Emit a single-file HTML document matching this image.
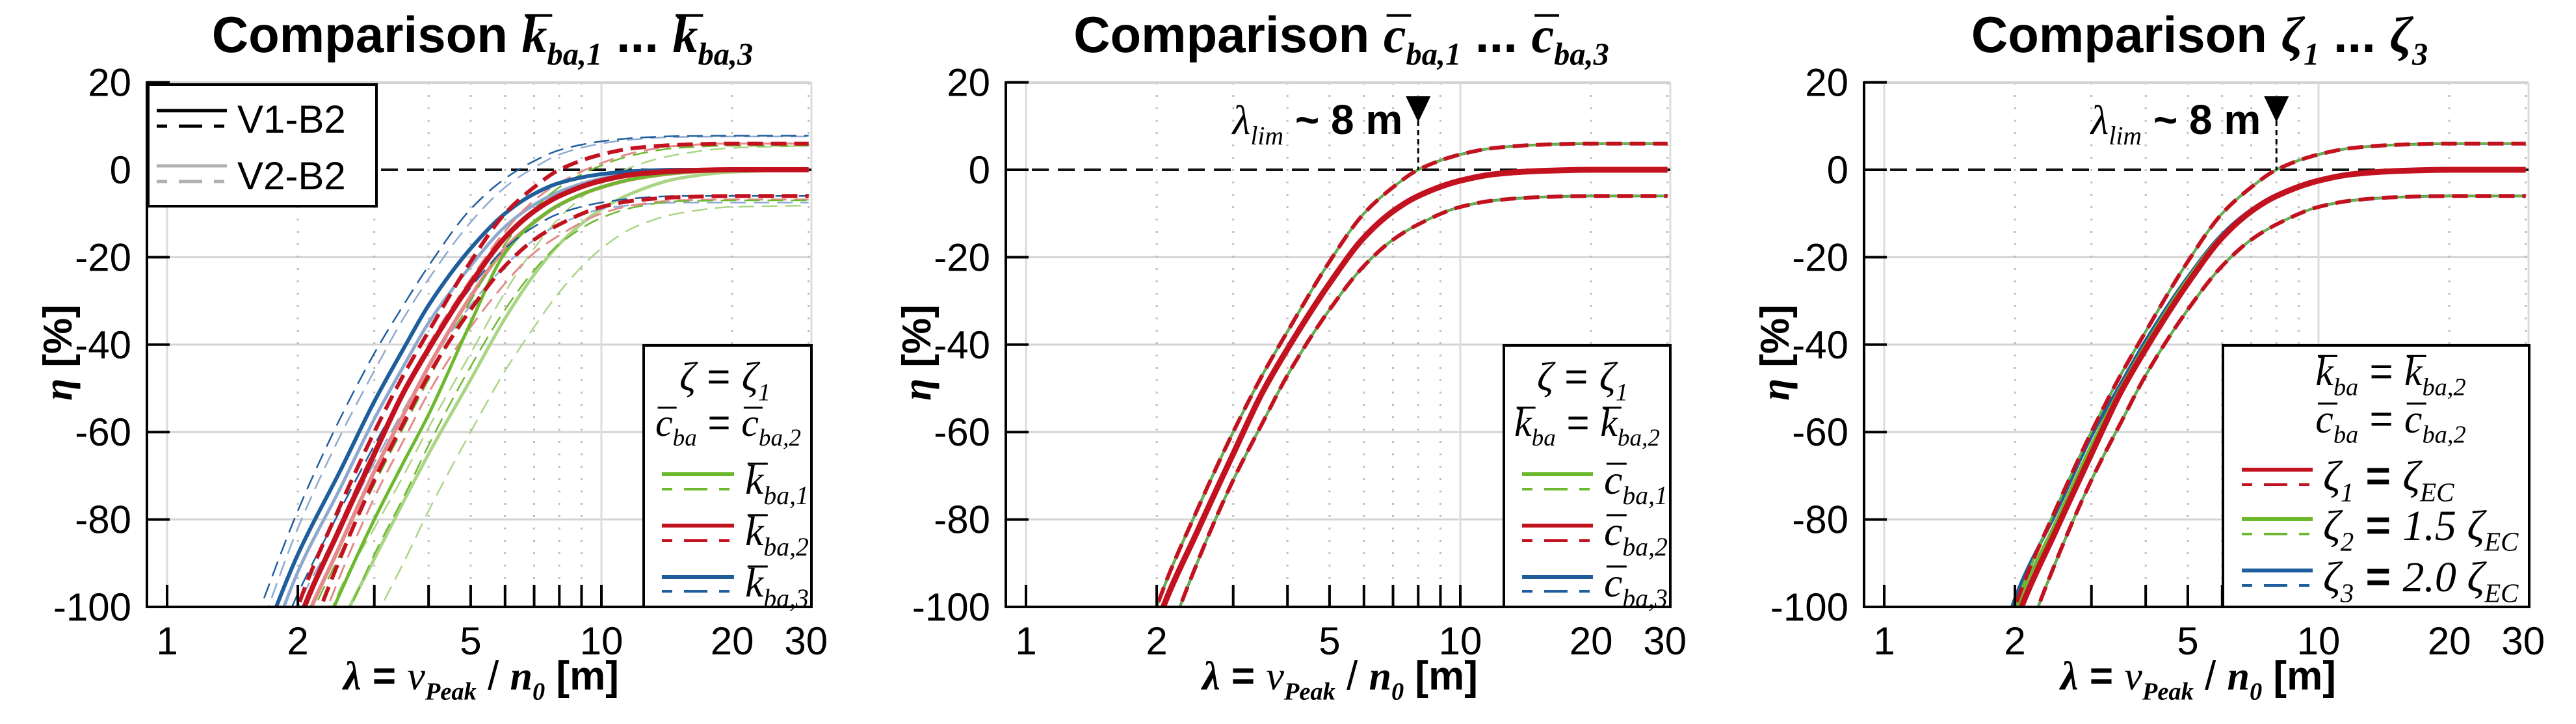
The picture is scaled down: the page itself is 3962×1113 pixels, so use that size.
<!DOCTYPE html>
<html><head><meta charset="utf-8">
<style>
html,body{margin:0;padding:0;background:#fff;overflow:hidden;}
svg{display:block;}
.tk{font-family:"Liberation Sans",sans-serif;font-size:60px;fill:#000;}
</style></head>
<body>
<svg id="fig" width="3962" height="1113" viewBox="0 0 3962 1113" xmlns="http://www.w3.org/2000/svg"></svg>
<script>
// ---- data ----
const LAMBDA = [1.6,2,2.5,3,3.5,4,5,6,7,8,10,12,15,20,30];
const X_TICKS = [1,2,3,4,5,6,7,8,9,10];
const X_LABELS = [1,2,5,10,20,30];
const Y_TICKS = [20,0,-20,-40,-60,-80,-100];
const LAMBDA_LIM = 8;
// panel 1 (V1-B2)
const K1_SOLID = [-160,-120,-97,-80,-67,-56,-35,-19,-12,-8,-4,-2,-0.7,0,0];
const K1_UP    = [-150,-110,-88,-72,-59,-48,-30,-17,-9,-4,1,3.5,5,5.5,5.5];
const K1_LOW   = [-170,-130,-106,-88,-75,-63,-45,-32,-23,-17,-11,-8.5,-7.2,-7,-7];
const K2_SOLID = [-140,-104,-82,-65,-51,-41,-26,-15.5,-9.5,-6,-2.5,-1,-0.3,0,0];
const K2_UP    = [-135,-100,-77,-60,-47,-37,-21,-10,-4,0,3.5,5,5.7,6,6];
const K2_LOW   = [-150,-115,-89,-71,-58,-47,-32,-22,-16,-12.5,-8.5,-7,-6.3,-6,-6];
const K3_SOLID = [-112,-88,-69,-53,-41,-31,-18,-10,-5.5,-3,-1,-0.3,0,0,0];
const K3_UP    = [-103,-78,-57,-42,-31,-22,-9,-2,2,4.5,6.5,7.3,7.7,7.8,7.8];
const K3_LOW   = [-120,-97,-78,-63,-51,-41,-27,-18,-13,-10,-7.5,-6.5,-6,-6,-6];
// panel 1 (V2-B2)
const K1V2_SOLID = [-180,-135,-105,-89,-76,-65,-48,-34,-24,-17,-9,-5,-2,-0.5,0];
const K1V2_UP    = [-170,-125,-96,-82,-70,-59,-42,-28,-18,-11,-3,1,3.5,5,5.5];
const K1V2_LOW   = [-190,-150,-120,-103,-90,-78,-60,-46,-36,-28,-18,-13,-10,-8.5,-8.2];
const K2V2_SOLID = [-145,-108,-86,-69,-56,-45,-29,-18,-12,-8,-4,-2,-0.7,0,0];
const K2V2_UP    = [-140,-104,-81,-64,-51,-40,-25,-14,-7,-3,1.5,4,5.5,6,6];
const K2V2_LOW   = [-155,-119,-93,-75,-62,-51,-36,-26,-19,-15,-10,-8,-7,-6.8,-6.8];
const K3V2_SOLID = [-118,-92,-73,-57,-45,-35,-22,-13,-8,-5,-2,-0.8,0,0,0];
const K3V2_UP    = [-108,-82,-61,-46,-34,-25,-12,-4,0.5,3.5,6,7,7.5,7.6,7.6];
const K3V2_LOW   = [-128,-100,-82,-67,-55,-45,-31,-22,-16,-12.5,-9,-8,-7.5,-7.5,-7.5];
// panel 3 variants
const Z2_SOLID = [-137,-101,-80,-63,-50,-40,-25,-15,-9.3,-5.8,-2.4,-1,-0.3,0,0];
const Z3_SOLID = [-134,-98,-78,-61,-49,-39,-24.5,-14.7,-9.1,-5.7,-2.4,-1,-0.3,0,0];

const NS="http://www.w3.org/2000/svg";
const svg=document.getElementById('fig');
function el(tag,attrs,parent){const e=document.createElementNS(NS,tag);for(const k in attrs)e.setAttribute(k,attrs[k]);(parent||svg).appendChild(e);return e;}

const RED='#c3121f',GREEN='#6cb92f',BLUE='#1f5e9c',LRED='#e48a8a',LGREEN='#a9d585',LBLUE='#8ea9cf';
const OFFS=[0,1321,2641];

function mathText(parent,x,y,parts,size,anchor){
  const t=el('text',{x:x,y:y,'font-size':size,'text-anchor':anchor||'start'},parent);
  let shift=0;const bars=[];let idx=0;
  parts.forEach(p=>{
    const s=el('tspan',{},t);
    s.textContent=p.t;
    if(p.it){s.setAttribute('font-family','"Liberation Serif",serif');s.setAttribute('font-style','italic');}
    else {s.setAttribute('font-family','"Liberation Sans",sans-serif');}
    if(p.b)s.setAttribute('font-weight','bold');
    const want=p.sub?size*0.25:0;
    if(want!==shift){s.setAttribute('dy',want-shift);shift=want;}
    if(p.sub)s.setAttribute('font-size',size*0.62);
    if(p.bar)bars.push(idx);
    idx+=p.t.length;
  });
  bars.forEach(i=>{
    try{const a=t.getStartPositionOfChar(i),b=t.getEndPositionOfChar(i);
      const yy=a.y-size*0.72;
      el('line',{x1:a.x+size*0.06,x2:b.x+size*0.1,y1:yy,y2:yy,stroke:'#000','stroke-width':Math.max(3,size*0.05)},parent);}catch(e){}
  });
  return t;
}

function monotonePath(pts){
  const n=pts.length,dx=[],s=[],m=new Array(n);
  for(let i=0;i<n-1;i++){dx[i]=pts[i+1][0]-pts[i][0];s[i]=(pts[i+1][1]-pts[i][1])/dx[i];}
  m[0]=s[0];m[n-1]=s[n-2];
  for(let i=1;i<n-1;i++){
    if(s[i-1]*s[i]<=0)m[i]=0;
    else{const w1=2*dx[i]+dx[i-1],w2=dx[i]+2*dx[i-1];m[i]=(w1+w2)/(w1/s[i-1]+w2/s[i]);}
  }
  let d='M'+pts[0][0].toFixed(1)+','+pts[0][1].toFixed(1);
  for(let i=0;i<n-1;i++){
    const h=dx[i]/3;
    d+=' C'+(pts[i][0]+h).toFixed(1)+','+(pts[i][1]+m[i]*h).toFixed(1)+' '+(pts[i+1][0]-h).toFixed(1)+','+(pts[i+1][1]-m[i+1]*h).toFixed(1)+' '+pts[i+1][0].toFixed(1)+','+pts[i+1][1].toFixed(1);
  }
  return d;
}

function panel(pi){
  const ox=OFFS[pi];
  const L=226+ox,R=1248+ox,T=127,B=933;
  const xs=l=>257+ox+668*Math.log10(l);
  const ys=v=>261-6.72*v;
  const g=el('g',{});
  
  
  const cid='clip'+pi;
  const cp=el('clipPath',{id:cid},g);el('rect',{x:L,y:T,width:R-L,height:B-T},cp);
  [20,-20,-40,-60,-80].forEach(v=>{const l=el('line',{x1:L,x2:R,y1:ys(v),y2:ys(v),stroke:'#d4d4d4','stroke-width':3},g);});
  [2,3,4,5,6,7,8,9,20,30].forEach(v=>{const l=el('line',{x1:xs(v),x2:xs(v),y1:T,y2:B,stroke:'#bdbdbd','stroke-width':3,'stroke-dasharray':'3 16'},g);});
  [1,10].forEach(v=>{const l=el('line',{x1:xs(v),x2:xs(v),y1:T,y2:B,stroke:'#dcdcdc','stroke-width':3},g);});
  el('line',{x1:R,x2:R,y1:T,y2:B,stroke:'#dcdcdc','stroke-width':3},g);
  el('line',{x1:L,x2:R,y1:T,y2:T,stroke:'#d4d4d4','stroke-width':4},g);
  const z=el('line',{x1:L,x2:R,y1:ys(0),y2:ys(0),stroke:'#111','stroke-width':4,'stroke-dasharray':'26 14'},g);
  
  const cg=el('g',{'clip-path':'url(#'+cid+')'},g);
  function curve(vals,color,w,dash,name){
    const pts=LAMBDA.map((l,i)=>[xs(l),ys(vals[i])]);
    const p=el('path',{d:monotonePath(pts),fill:'none',stroke:color,'stroke-width':w,'stroke-linejoin':'round'},cg);
    if(dash)p.setAttribute('stroke-dasharray',dash);
    
    
  }
  const DS='24 12';
  if(pi===0){
    curve(K1V2_UP,LGREEN,2.5,DS,'k1-v2-upper');curve(K1V2_LOW,LGREEN,2.5,DS,'k1-v2-lower');curve(K1V2_SOLID,LGREEN,5,null,'k1-v2-mean');
    curve(K3V2_UP,LBLUE,2.5,DS,'k3-v2-upper');curve(K3V2_LOW,LBLUE,2.5,DS,'k3-v2-lower');curve(K3V2_SOLID,LBLUE,5,null,'k3-v2-mean');
    curve(K2V2_UP,LRED,3,DS,'k2-v2-upper');curve(K2V2_LOW,LRED,3,DS,'k2-v2-lower');curve(K2V2_SOLID,LRED,6,null,'k2-v2-mean');
    curve(K1_UP,GREEN,2.5,DS,'k1-v1-upper');curve(K1_LOW,GREEN,2.5,DS,'k1-v1-lower');curve(K1_SOLID,GREEN,5,null,'k1-v1-mean');
    curve(K3_UP,BLUE,2.5,DS,'k3-v1-upper');curve(K3_LOW,BLUE,2.5,DS,'k3-v1-lower');curve(K3_SOLID,BLUE,6,null,'k3-v1-mean');
    curve(K2_UP,RED,6,DS,'k2-v1-upper');curve(K2_LOW,RED,6,DS,'k2-v1-lower');curve(K2_SOLID,RED,8,null,'k2-v1-mean');
  } else {
    const s2=pi===2?Z2_SOLID:K2_SOLID, s3=pi===2?Z3_SOLID:K2_SOLID;
    curve(K2_UP,BLUE,4,null,'series3-upper');curve(K2_LOW,BLUE,4,null,'series3-lower');curve(s3,BLUE,5,null,'series3-mean');
    curve(K2_UP,GREEN,3,null,'series1-upper');curve(K2_LOW,GREEN,3,null,'series1-lower');curve(s2,GREEN,5,null,'series1-mean');
    curve(K2_UP,RED,6,DS,'series2-upper');curve(K2_LOW,RED,6,DS,'series2-lower');curve(K2_SOLID,RED,9,null,'series2-mean');
    const xl=xs(LAMBDA_LIM);
    el('line',{x1:xl,x2:xl,y1:186,y2:ys(0),stroke:'#000','stroke-width':3,'stroke-dasharray':'8 6'},g);
    const tri=el('polygon',{points:(xl-19)+',148 '+(xl+19)+',148 '+xl+',188',fill:'#000'},g);
    
    const at=mathText(g,xl-24,206,[{t:'λ',it:true},{t:'lim',it:true,sub:true},{t:' ~ 8 m',b:true}],64,'end');
    
  }
  el('line',{x1:L,x2:L,y1:T-2,y2:B+2,stroke:'#000','stroke-width':4},g);
  el('line',{x1:L-2,x2:R,y1:B,y2:B,stroke:'#000','stroke-width':4},g);
  Y_TICKS.forEach(v=>{
    if(v!==-100){el('line',{x1:L,x2:L+35,y1:ys(v),y2:ys(v),stroke:'#000','stroke-width':4},g);}
    const tx=el('text',{x:L-24,y:ys(v)+21,'text-anchor':'end',class:'tk'},g);tx.textContent=v;
    
  });
  X_TICKS.forEach(v=>{el('line',{x1:xs(v),x2:xs(v),y1:B,y2:B-34,stroke:'#000','stroke-width':4},g);});
  X_LABELS.forEach(v=>{
    const tx=el('text',{x:xs(v)+(v===30?-4:0),y:1006,'text-anchor':'middle',class:'tk'},g);tx.textContent=v;
    
  });
  const xt=mathText(g,740+ox,1060,[{t:'λ',it:true,b:true},{t:' = ',b:true},{t:'v',it:true},{t:'Peak',it:true,sub:true,b:true},{t:' / ',b:false},{t:'n',it:true,b:true},{t:'0',it:true,sub:true,b:true},{t:' [m]',b:true}],62,'middle');
  
  const yt=el('text',{x:0,y:0,transform:'translate('+(110+ox)+',542) rotate(-90)','text-anchor':'middle','font-size':62,'font-weight':'bold','font-family':'"Liberation Sans",sans-serif'},g);
  const yt1=el('tspan',{'font-family':'"Liberation Serif",serif','font-style':'italic'},yt);yt1.textContent='η';
  const yt2=el('tspan',{},yt);yt2.textContent=' [%]';
  
  let tp;
  if(pi===0)tp=[{t:'Comparison ',b:true},{t:'k',it:true,b:true,bar:true},{t:'ba,1',it:true,b:true,sub:true},{t:' ... ',b:true},{t:'k',it:true,b:true,bar:true},{t:'ba,3',it:true,b:true,sub:true}];
  else if(pi===1)tp=[{t:'Comparison ',b:true},{t:'c',it:true,b:true,bar:true},{t:'ba,1',it:true,b:true,sub:true},{t:' ... ',b:true},{t:'c',it:true,b:true,bar:true},{t:'ba,3',it:true,b:true,sub:true}];
  else tp=[{t:'Comparison ',b:true},{t:'ζ',it:true,b:true},{t:'1',it:true,b:true,sub:true},{t:' ... ',b:true},{t:'ζ',it:true,b:true},{t:'3',it:true,b:true,sub:true}];
  const ti=mathText(g,742+ox,80,tp,78,'middle');
  
  return {g,ox,xs,ys};
}

function legendEntry(parent,x1,x2,ys,yd,color,wSolid,wDash,name){
  const a=el('line',{x1:x1,x2:x2,y1:ys,y2:ys,stroke:color,'stroke-width':wSolid},parent);
  const b=el('line',{x1:x1,x2:x2,y1:yd,y2:yd,stroke:color,'stroke-width':wDash,'stroke-dasharray':'16 18 36 18 16'},parent);
  
  
}

const p1=panel(0);
{
  const lg=el('g',{},p1.g);
  el('rect',{x:228,y:130,width:351,height:187,fill:'#fff',stroke:'#000','stroke-width':4},lg);
  legendEntry(lg,241,349,170,194,'#000',5,5,'v1-b2');
  legendEntry(lg,241,349,255,279,'#b0b0b0',5,5,'v2-b2');
  const t1=el('text',{x:365,y:204,class:'tk','font-size':68},lg);t1.textContent='V1-B2';
  const t2=el('text',{x:365,y:291,class:'tk','font-size':68},lg);t2.textContent='V2-B2';
  const lg2=el('g',{},p1.g);
  el('rect',{x:990,y:531,width:258,height:402,fill:'#fff',stroke:'#000','stroke-width':4},lg2);
  mathText(lg2,1115,600,[{t:'ζ',it:true},{t:' = ',it:false},{t:'ζ',it:true},{t:'1',it:true,sub:true}],62,'middle');
  mathText(lg2,1120,670,[{t:'c',it:true,bar:true},{t:'ba',it:true,sub:true},{t:' = ',it:false},{t:'c',it:true,bar:true},{t:'ba,2',it:true,sub:true}],60,'middle');
  [[729,752,GREEN,'1'],[808,831,RED,'2'],[887,909,BLUE,'3']].forEach(r=>{
    legendEntry(lg2,1018,1129,r[0],r[1],r[2],6,4,'k'+r[3]);
    mathText(lg2,1146,r[0]+30,[{t:'k',it:true,bar:true},{t:'ba,'+r[3],it:true,sub:true}],64,'start');
  });
}
const p2=panel(1);
{
  const ox=p2.ox;
  const lg2=el('g',{},p2.g);
  el('rect',{x:992+ox,y:531,width:256,height:402,fill:'#fff',stroke:'#000','stroke-width':4},lg2);
  mathText(lg2,1113+ox,600,[{t:'ζ',it:true},{t:' = ',it:false},{t:'ζ',it:true},{t:'1',it:true,sub:true}],62,'middle');
  mathText(lg2,1120+ox,670,[{t:'k',it:true,bar:true},{t:'ba',it:true,sub:true},{t:' = ',it:false},{t:'k',it:true,bar:true},{t:'ba,2',it:true,sub:true}],60,'middle');
  [[729,752,GREEN,'1'],[808,831,RED,'2'],[887,909,BLUE,'3']].forEach(r=>{
    legendEntry(lg2,1020+ox,1129+ox,r[0],r[1],r[2],6,4,'c'+r[3]);
    mathText(lg2,1146+ox,r[0]+30,[{t:'c',it:true,bar:true},{t:'ba,'+r[3],it:true,sub:true}],64,'start');
  });
}
const p3=panel(2);
{
  const ox=p3.ox;
  const lg2=el('g',{},p3.g);
  el('rect',{x:778+ox,y:531,width:471,height:402,fill:'#fff',stroke:'#000','stroke-width':4},lg2);
  mathText(lg2,1036+ox,592,[{t:'k',it:true,bar:true},{t:'ba',it:true,sub:true},{t:' = ',it:false},{t:'k',it:true,bar:true},{t:'ba,2',it:true,sub:true}],62,'middle');
  mathText(lg2,1036+ox,665,[{t:'c',it:true,bar:true},{t:'ba',it:true,sub:true},{t:' = ',it:false},{t:'c',it:true,bar:true},{t:'ba,2',it:true,sub:true}],62,'middle');
  [[722,745,RED,'1',''],[798,821,GREEN,'2','1.5 '],[877,900,BLUE,'3','2.0 ']].forEach(r=>{
    legendEntry(lg2,807+ox,916+ox,r[0],r[1],r[2],6,4,'zeta'+r[3]);
    mathText(lg2,932+ox,r[0]+32,[{t:'ζ',it:true},{t:r[3],it:true,sub:true},{t:' = ',b:true},{t:r[4]+'ζ',it:true},{t:'EC',it:true,sub:true}],66,'start');
  });
}
</script>
</body></html>
